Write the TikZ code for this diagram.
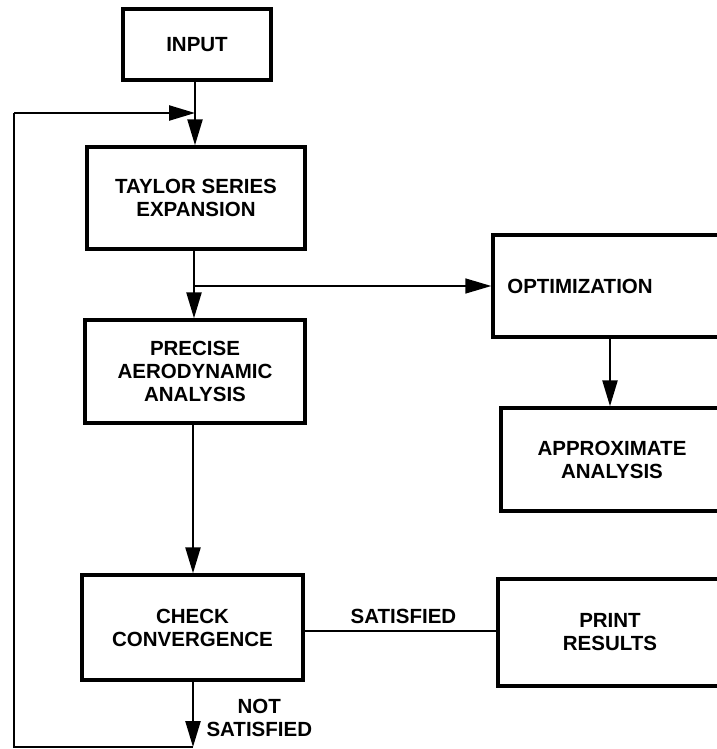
\documentclass[tikz,border=0pt]{standalone}
\usepackage{fontspec}
\setmainfont{Liberation Sans}
\usetikzlibrary{arrows.meta,calc}
\begin{document}
\begin{tikzpicture}[x=1pt,y=-1pt,
  lbl/.style={font=\fontsize{20.5}{23}\selectfont\bfseries, align=center},
  stepbox/.style={draw, line width=3.4pt, rectangle, inner sep=0pt, lbl},
  tip/.style={-{Triangle[length=26pt,width=15pt]}},
  conn/.style={line width=2.4pt, tip},
  plain/.style={line width=2.2pt},
  thin/.style={line width=1.5pt}]
\useasboundingbox (0,0) rectangle (716,749);
\node[stepbox, minimum width=148pt, minimum height=71pt] (input) at (197,44.5) {INPUT};
\node[stepbox, minimum width=218pt, minimum height=102pt] (taylor) at (196,198) {TAYLOR SERIES\\EXPANSION};
\node[stepbox, minimum width=220pt, minimum height=103pt] (precise) at (195,371.5) {PRECISE\\AERODYNAMIC\\ANALYSIS};
\node[stepbox, minimum width=221pt, minimum height=105pt] (check) at (192.5,627.5) {CHECK\\CONVERGENCE};
\node[stepbox, minimum width=230pt, minimum height=102pt, label={[lbl,xshift=-28pt]center:OPTIMIZATION}] (optim) at (608,286) {};
\node[stepbox, minimum width=222pt, minimum height=103pt] (approx) at (612,459.5) {APPROXIMATE\\ANALYSIS};
\node[stepbox, minimum width=224pt, minimum height=107pt] (print) at (610,632.5) {PRINT\\RESULTS};
% coordinates
\coordinate (jn) at (195,113);
\coordinate (lt) at (14,113);
\coordinate (lb) at (14,747);
\coordinate (nb) at (193,747);
\coordinate (br) at (194,286);
\coordinate (ax) at (610,400);
\coordinate (sy) at (400,631);
% connectors
\draw[conn] (input.south -| jn) -- (taylor.north -| jn);
\draw[conn] (taylor.south -| br) -- (precise.north -| br);
\draw[thin, tip] (br) -- (optim.west);
\draw[conn] (precise.south -| nb) -- (check.north -| nb);
\draw[conn] (optim.south -| ax) -- (approx.north -| ax);
\draw[thin] (check.east |- sy) -- (print.west |- sy)
  node[lbl, midway, above=3pt, xshift=3pt] (sat) {SATISFIED};
\draw[conn] (check.south -| nb) -- (nb);
\draw[plain] (nb) -- (lb) -- (lt);
\draw[conn] (lt) -- (jn);
\node[lbl, anchor=west] (ns) at (203,718) {NOT\\SATISFIED};
\end{tikzpicture}
\end{document}
